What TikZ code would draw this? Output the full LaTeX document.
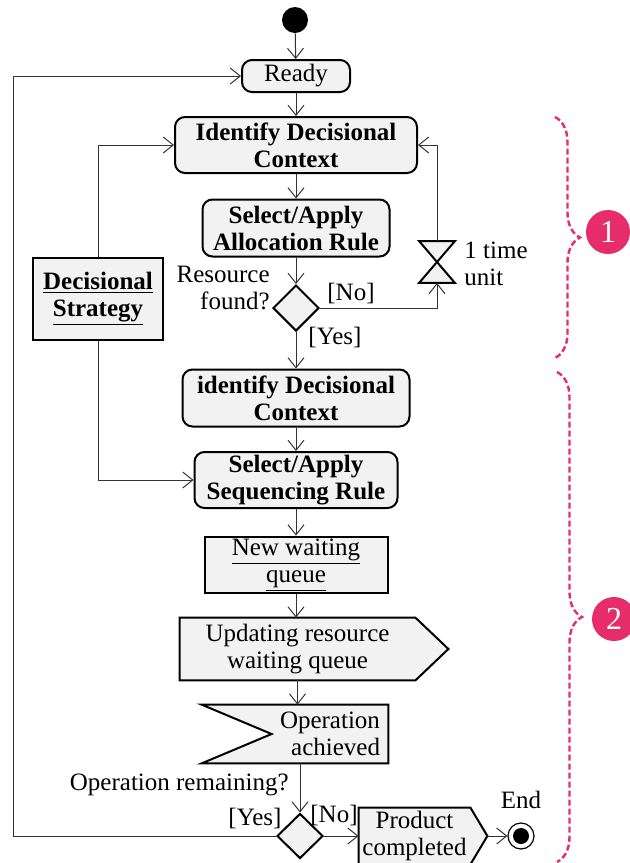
\documentclass[tikz,border=0pt]{standalone}
\usepackage{fontspec}
\setmainfont{Liberation Serif}
\usepackage{xcolor}
\usetikzlibrary{shapes.geometric, arrows.meta, decorations.pathreplacing, backgrounds}

\definecolor{boxgray}{RGB}{242,242,242}
\definecolor{markpink}{RGB}{230,45,105}

\begin{document}
\begin{tikzpicture}[x=0.5pt, y=-0.5pt]
	\tikzstyle{every node}=[font=\fontsize{12.5}{13.5}\selectfont, inner sep=1pt];
	\tikzstyle{activity}=[draw, line width=1pt, fill=boxgray, rounded corners=5pt, align=center, font=\fontsize{12.5}{13.5}\selectfont\bfseries];
	\tikzstyle{plainact}=[activity, font=\fontsize{12.5}{13.5}\selectfont];
	\tikzstyle{object}=[draw, line width=1pt, fill=boxgray, align=center];
	\tikzstyle{sigtext}=[align=center, inner sep=0pt];
	\tikzstyle{outline}=[draw, line width=1pt, fill=boxgray];
	\tikzstyle{decision}=[diamond, draw, line width=1pt, fill=boxgray, inner sep=0pt, minimum width=23pt, minimum height=23pt];
	\tikzstyle{flow}=[-{Straight Barb[length=5pt, width=8pt]}, line width=0.5pt, black!80];
	\tikzstyle{phase}=[decorate, decoration={brace, amplitude=12.5pt}, markpink, dash pattern=on 3pt off 1.5pt, line width=1.2pt];
	\tikzstyle{numcirc}=[circle, fill=markpink, text=white, minimum size=22pt, inner sep=0pt, font=\fontsize{16}{16}\selectfont];
	\useasboundingbox (0,0) rectangle (629,863);

	%Start and first phase
	\node[circle, fill=black, minimum size=13pt, inner sep=0pt] (start) at (295,20) {};
	\node[plainact, minimum width=54pt, minimum height=16pt] (ready) at (296,76) {Ready};
	\node[activity, minimum width=121pt, minimum height=28pt] (idc1) at (296,145) {Identify Decisional\\Context};
	\node[activity, minimum width=93.5pt, minimum height=28.5pt] (alloc) at (296,228) {Select/Apply\\Allocation Rule};
	\node[decision] (dec1) at (296,308) {};
	\node[anchor=east, align=right] (found) at (272,288) {Resource\\found?};
	\node (no1) at (351,293) {[No]};
	\node (yes1) at (335,337) {[Yes]};

	%Time unit wait
	\node[minimum width=17.5pt, minimum height=20.5pt, inner sep=0pt] (wait) at (437,262) {};
	\node[anchor=west, align=left] (timeunit) at (462,264) {1 time\\unit};

	%Strategy
	\node[object, minimum width=65pt, minimum height=41pt, font=\fontsize{12.5}{13.5}\selectfont\bfseries] (strat) at (98,299) {\underline{Decisional}\\\underline{Strategy}};

	%Second phase
	\node[activity, minimum width=113.5pt, minimum height=28.5pt] (idc2) at (296,398) {identify Decisional\\Context};
	\node[activity, minimum width=101.5pt, minimum height=28pt] (seq) at (296,480) {Select/Apply\\Sequencing Rule};
	\node[object, minimum width=91.5pt, minimum height=28pt] (queue) at (296,565) {\underline{New waiting}\\\underline{queue}};
	\node[sigtext, minimum width=117.5pt, minimum height=31pt] (update) at (297.5,649) {Updating resource\\waiting queue};
	\node[sigtext, align=right, minimum width=58pt, minimum height=29pt] (achieved) at (330,734) {Operation\\achieved};
	\node[anchor=east] (remain) at (291,785) {Operation remaining?};
	\node[decision, minimum height=22.5pt] (dec2) at (300,836) {};
	\node (yes2) at (255,818) {[Yes]};
	\node (no2) at (334,815) {[No]};
	\node[sigtext, minimum width=55.5pt, minimum height=28pt] (product) at (414.5,836) {Product\\completed};
	\coordinate (prodtip) at ([xshift=8.5pt]product.east);
	\node[circle, draw, semithick, minimum size=13pt, inner sep=0pt] (end) at (521,836) {};
	\fill (end) circle (4pt);
	\node (endlbl) at (521,800) {End};
	\coordinate (loopcorner) at (13,836);

	%Shapes behind the texts
	\begin{scope}[on background layer]
		\draw[outline] (wait.north west) -- (wait.north east) -- (wait.south west) -- (wait.south east) -- cycle;
		\draw[outline] (update.north west) -- (update.north east) -- ([xshift=16.5pt]update.east) -- (update.south east) -- (update.south west) -- cycle;
		\draw[outline] (achieved.north east) -- ([xshift=-35pt]achieved.north west) -- (achieved.west) -- ([xshift=-35pt]achieved.south west) -- (achieved.south east) -- cycle;
		\draw[outline] (product.north west) -- (product.north east) -- (prodtip) -- (product.south east) -- (product.south west) -- cycle;
	\end{scope}

	%Flows
	\draw[flow] (start) -- (ready);
	\draw[flow] (ready) -- (idc1);
	\draw[flow] (idc1) -- (alloc);
	\draw[flow] (alloc) -- (dec1);
	\draw[flow] (dec1) -- (idc2);
	\draw[flow] (dec1.east) -| (wait.south);
	\draw[flow] (wait.north) |- (idc1.east);
	\draw[flow] (strat.north) |- (idc1.west);
	\draw[flow] (strat.south) |- (seq.west);
	\draw[flow] (idc2) -- (seq);
	\draw[flow] (seq) -- (queue);
	\draw[flow] (queue) -- (queue |- update.north);
	\draw[flow] (update.south) -- (update.south |- achieved.north);
	\draw[flow] (dec2.north |- achieved.south) -- (dec2.north);
	\draw[flow] (dec2.west) -- (loopcorner) |- (ready.west);
	\draw[flow] (dec2.east) -- (product.west);
	\draw[flow] (prodtip) -- (end);

	%Phases
	\draw[phase] (555,117) -- (555,358);
	\draw[phase] (557,372) -- (557,862);
	\node[numcirc] (one) at (608,232) {1};
	\node[numcirc] (two) at (614,619) {2};
\end{tikzpicture}
\end{document}
